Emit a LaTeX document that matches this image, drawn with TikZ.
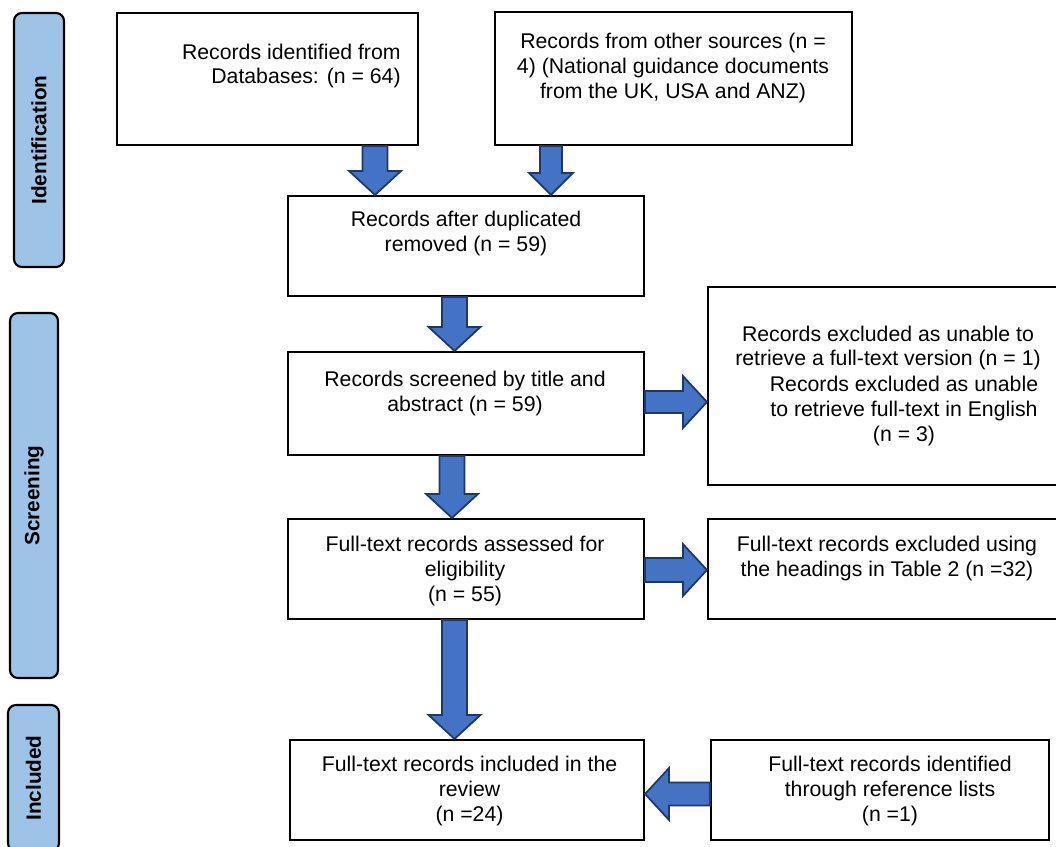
\documentclass[tikz,border=0pt]{standalone}
\usepackage{fontspec}
\setmainfont{Liberation Sans}
\usetikzlibrary{positioning, calc}
\definecolor{arrblue}{HTML}{4472C4}
\definecolor{arrnavy}{HTML}{203864}
\definecolor{phaseblue}{HTML}{9DC3E6}

\begin{document}
\begin{tikzpicture}[
  font=\fontsize{12.1}{14.2}\selectfont,
  recbox/.style={draw=black, line width=1.2pt, inner sep=0pt,
    minimum width=7.12cm, minimum height=2cm},
  txt/.style={align=center, inner sep=0pt, text=black},
  phase/.style={draw=black, line width=1.2pt, fill=phaseblue, rounded corners=4.5pt,
    rotate=90, inner sep=0pt, font=\fontsize{11.8}{14.2}\selectfont\bfseries},
  arrshaft/.store in=\arrshaft, arrhead/.store in=\arrhead, arrtip/.store in=\arrtip,
  arrshaft=0.25cm, arrhead=0.52cm, arrtip=0.48cm,
  bigarrow/.style={draw=arrnavy, line width=1pt, fill=arrblue, line join=miter},
  blockdown/.style={bigarrow, to path={let \p1=(\tikztostart), \p2=(\tikztotarget) in
    (\x1-\arrshaft,\y1) -- (\x1-\arrshaft,\y2+\arrtip) -- (\x1-\arrhead,\y2+\arrtip)
    -- (\x1,\y2) -- (\x1+\arrhead,\y2+\arrtip) -- (\x1+\arrshaft,\y2+\arrtip)
    -- (\x1+\arrshaft,\y1) -- cycle}},
  blockright/.style={bigarrow, to path={let \p1=(\tikztostart), \p2=(\tikztotarget) in
    (\x1,\y1-\arrshaft) -- (\x2-\arrtip,\y1-\arrshaft) -- (\x2-\arrtip,\y1-\arrhead)
    -- (\x2,\y1) -- (\x2-\arrtip,\y1+\arrhead) -- (\x2-\arrtip,\y1+\arrshaft)
    -- (\x1,\y1+\arrshaft) -- cycle}},
  blockleft/.style={bigarrow, to path={let \p1=(\tikztostart), \p2=(\tikztotarget) in
    (\x1,\y1-\arrshaft) -- (\x2+\arrtip,\y1-\arrshaft) -- (\x2+\arrtip,\y1-\arrhead)
    -- (\x2,\y1) -- (\x2+\arrtip,\y1+\arrhead) -- (\x2+\arrtip,\y1+\arrshaft)
    -- (\x1,\y1+\arrshaft) -- cycle}},
]

\useasboundingbox (0,0) rectangle (21.12,16.94);

% Phase bars
\node[phase, minimum width=5.08cm, minimum height=1cm] (phase-id) at (0.78,14.14) {Identification};
\node[phase, minimum width=7.3cm, minimum height=0.96cm] (phase-scr) at (0.68,7.03) {Screening};
\node[phase, minimum width=2.92cm, minimum height=1.02cm] (phase-inc) at (0.67,1.38) {Included};

% =============================================
% Identification
% =============================================
\node[recbox, minimum width=6.02cm, minimum height=2.64cm] (dbrec) at (5.35,15.36) {};
\node[txt, align=right, anchor=east] (dbrec-txt) at (8.02,15.62)
  {Records identified from\\Databases: (n = 64)};

\node[recbox, minimum width=7.14cm, minimum height=2.66cm] (othrec) at (13.47,15.37) {};
\node[txt] (othrec-txt) at (13.46,15.58)
  {Records from other sources (n =\\4) (National guidance documents\\from the UK, USA and ANZ)};

\node[recbox] (dedup) at (9.32,12.02) {};
\node[txt] (dedup-txt) at (9.32,12.27)
  {Records after duplicated\\removed (n = 59)};

% =============================================
% Screening
% =============================================
\node[recbox, minimum height=2.06cm] (screen) at (9.32,8.87) {};
\node[txt] (screen-txt) at (9.30,9.07)
  {Records screened by title and\\abstract (n = 59)};

\node[recbox, minimum width=7.2cm, minimum height=3.96cm] (exclft) at (17.76,9.22) {};
\node[txt] (exclft-txt1) at (17.76,9.98)
  {Records excluded as unable to\\retrieve a full-text version (n = 1)};
\node[txt] (exclft-txt2) at (18.08,8.72)
  {Records excluded as unable\\to retrieve full-text in English\\(n = 3)};

\node[recbox] (elig) at (9.32,5.56) {};
\node[txt] (elig-txt) at (9.30,5.52)
  {Full-text records assessed for\\eligibility\\(n = 55)};

\node[recbox, minimum width=7.2cm] (exclelig) at (17.76,5.56) {};
\node[txt] (exclelig-txt) at (17.74,5.77)
  {Full-text records excluded using\\the headings in Table 2 (n =32)};

% =============================================
% Included
% =============================================
\node[recbox, minimum width=7.08cm] (incl) at (9.34,1.14) {};
\node[txt] (incl-txt) at (9.39,1.12)
  {Full-text records included in the\\review\\(n =24)};

\node[recbox, minimum width=6.76cm] (reflist) at (17.6,1.14) {};
\node[txt] (reflist-txt) at (17.8,1.12)
  {Full-text records identified\\through reference lists\\(n =1)};

% Block arrows
\path[blockdown] ([xshift=-1.82cm]dedup.north |- dbrec.south) to ([xshift=-1.82cm]dedup.north);
\path[blockdown, arrshaft=0.22cm, arrhead=0.44cm, arrtip=0.44cm]
  ([xshift=1.70cm]dedup.north |- othrec.south) to ([xshift=1.70cm]dedup.north);
\path[blockdown] ([xshift=-0.23cm]dedup.south) to ([xshift=-0.23cm]screen.north);
\path[blockdown] ([xshift=-0.28cm]screen.south) to ([xshift=-0.28cm]elig.north);
\path[blockdown] ([xshift=-0.23cm]elig.south) to ([xshift=-0.23cm]incl.north);
\path[blockright, arrshaft=0.22cm] ([yshift=0.03cm]screen.east) to ([yshift=0.03cm]screen.east -| exclft.west);
\path[blockright, arrshaft=0.24cm] ([yshift=-0.02cm]elig.east) to ([yshift=-0.02cm]elig.east -| exclelig.west);
\path[blockleft, arrshaft=0.23cm] ([yshift=-0.08cm]reflist.west) to ([yshift=-0.08cm]reflist.west -| incl.east);

\end{tikzpicture}
\end{document}
